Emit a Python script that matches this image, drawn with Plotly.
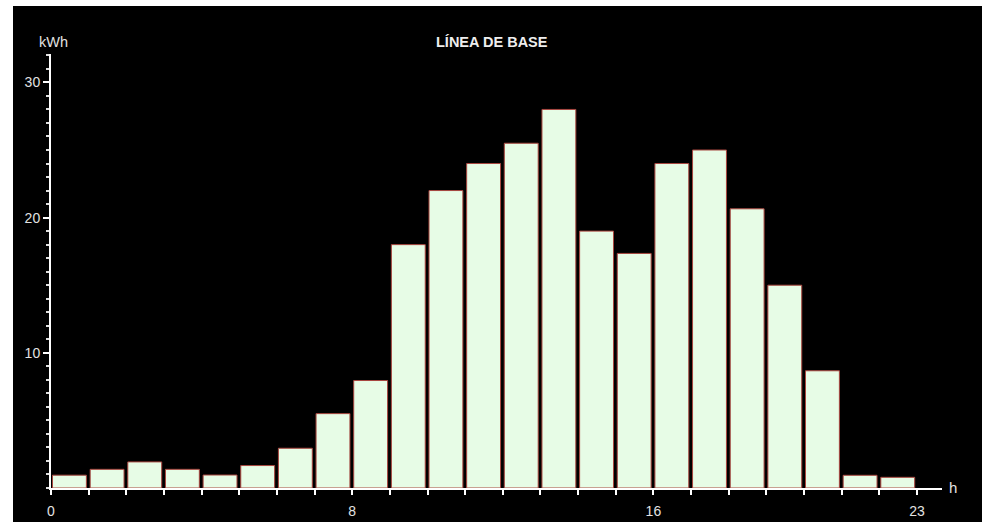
import plotly.graph_objects as go

hours = list(range(23))
kwh = [0.95, 1.38, 1.93, 1.38, 0.96, 1.66, 2.94, 5.5, 7.95, 18.0, 22.0, 24.0, 25.5,
       28.0, 19.0, 17.35, 24.0, 25.0, 20.65, 15.0, 8.67, 0.94, 0.79]
x_tick_vals = list(range(24))
x_tick_labels = {0: "0", 8: "8", 16: "16", 23: "23"}
y_tick_vals = [10, 20, 30]
title_text = "LÍNEA DE BASE"
y_unit = "kWh"
x_unit = "h"

W, H = 982, 522
PL, PR, PT, PB = 51, 942, 54, 488          # plot area in window pixels
L, R, T, B = PL, W - PR, PT, H - PB
pw, ph = PR - PL, PB - PT

def px_x(p):
    return (p - PL) / pw

def px_y(p):
    return (PB - p) / ph

FONT = "Liberation Sans, Arial, sans-serif"
TXT = "#e2e2e2"

fig = go.Figure()
fig.add_trace(go.Bar(
    x=[h + 0.49 for h in hours],
    y=kwh,
    width=0.9,
    marker=dict(color="#e7fce6", line=dict(color="#a8463f", width=1)),
    hoverinfo="skip",
))

fig.update_layout(
    width=W, height=H,
    margin=dict(l=L, r=R, t=T, b=B, pad=0, autoexpand=False),
    paper_bgcolor="white",
    plot_bgcolor="rgba(0,0,0,0)",
    showlegend=False,
    font=dict(family=FONT, size=14, color=TXT),
    shapes=[dict(type="rect", xref="paper", yref="paper",
                 x0=px_x(13), x1=px_x(1000), y0=px_y(540), y1=px_y(6),
                 fillcolor="black", line=dict(width=0), layer="below")],
    annotations=[
        dict(text="<b>" + title_text + "</b>", xref="paper", yref="paper",
             x=px_x(492), y=px_y(42), xanchor="center", yanchor="middle",
             showarrow=False, font=dict(family=FONT, size=14.5, color="#eeeeee")),
        dict(text=y_unit, xref="paper", yref="paper", x=px_x(53), y=px_y(42),
             xanchor="center", yanchor="middle", showarrow=False,
             font=dict(family=FONT, size=14.5, color=TXT)),
        dict(text=x_unit, xref="paper", yref="paper", x=px_x(953), y=px_y(487),
             xanchor="center", yanchor="middle", showarrow=False,
             font=dict(family=FONT, size=15, color=TXT)),
    ],
)

fig.update_xaxes(
    automargin=False,
    range=[0, pw / 37.65],
    showgrid=False, zeroline=False,
    showline=True, linecolor="white", linewidth=2,
    ticks="outside", ticklen=5, tickwidth=2, tickcolor="white",
    tickvals=x_tick_vals,
    ticktext=[x_tick_labels.get(v, "") for v in x_tick_vals],
    tickfont=dict(family=FONT, size=14, color=TXT),
    ticklabelstandoff=4,
    fixedrange=True,
)
fig.update_yaxes(
    automargin=False,
    range=[0, ph / 13.52],
    showgrid=False, zeroline=False,
    showline=True, linecolor="white", linewidth=2,
    ticks="outside", ticklen=6, tickwidth=2, tickcolor="white",
    tickvals=y_tick_vals,
    tickfont=dict(family=FONT, size=14, color=TXT),
    ticklabelstandoff=0,
    minor=dict(dtick=1, tick0=0, ticks="outside", ticklen=3, tickwidth=1.5, tickcolor="#dddddd"),
    fixedrange=True,
)

# remove the browser's default 8px page margin so the 982x522 figure fills the window
fig.write_html("out.html", config={"displayModeBar": False},
               post_script="document.body.style.margin='0px';")
